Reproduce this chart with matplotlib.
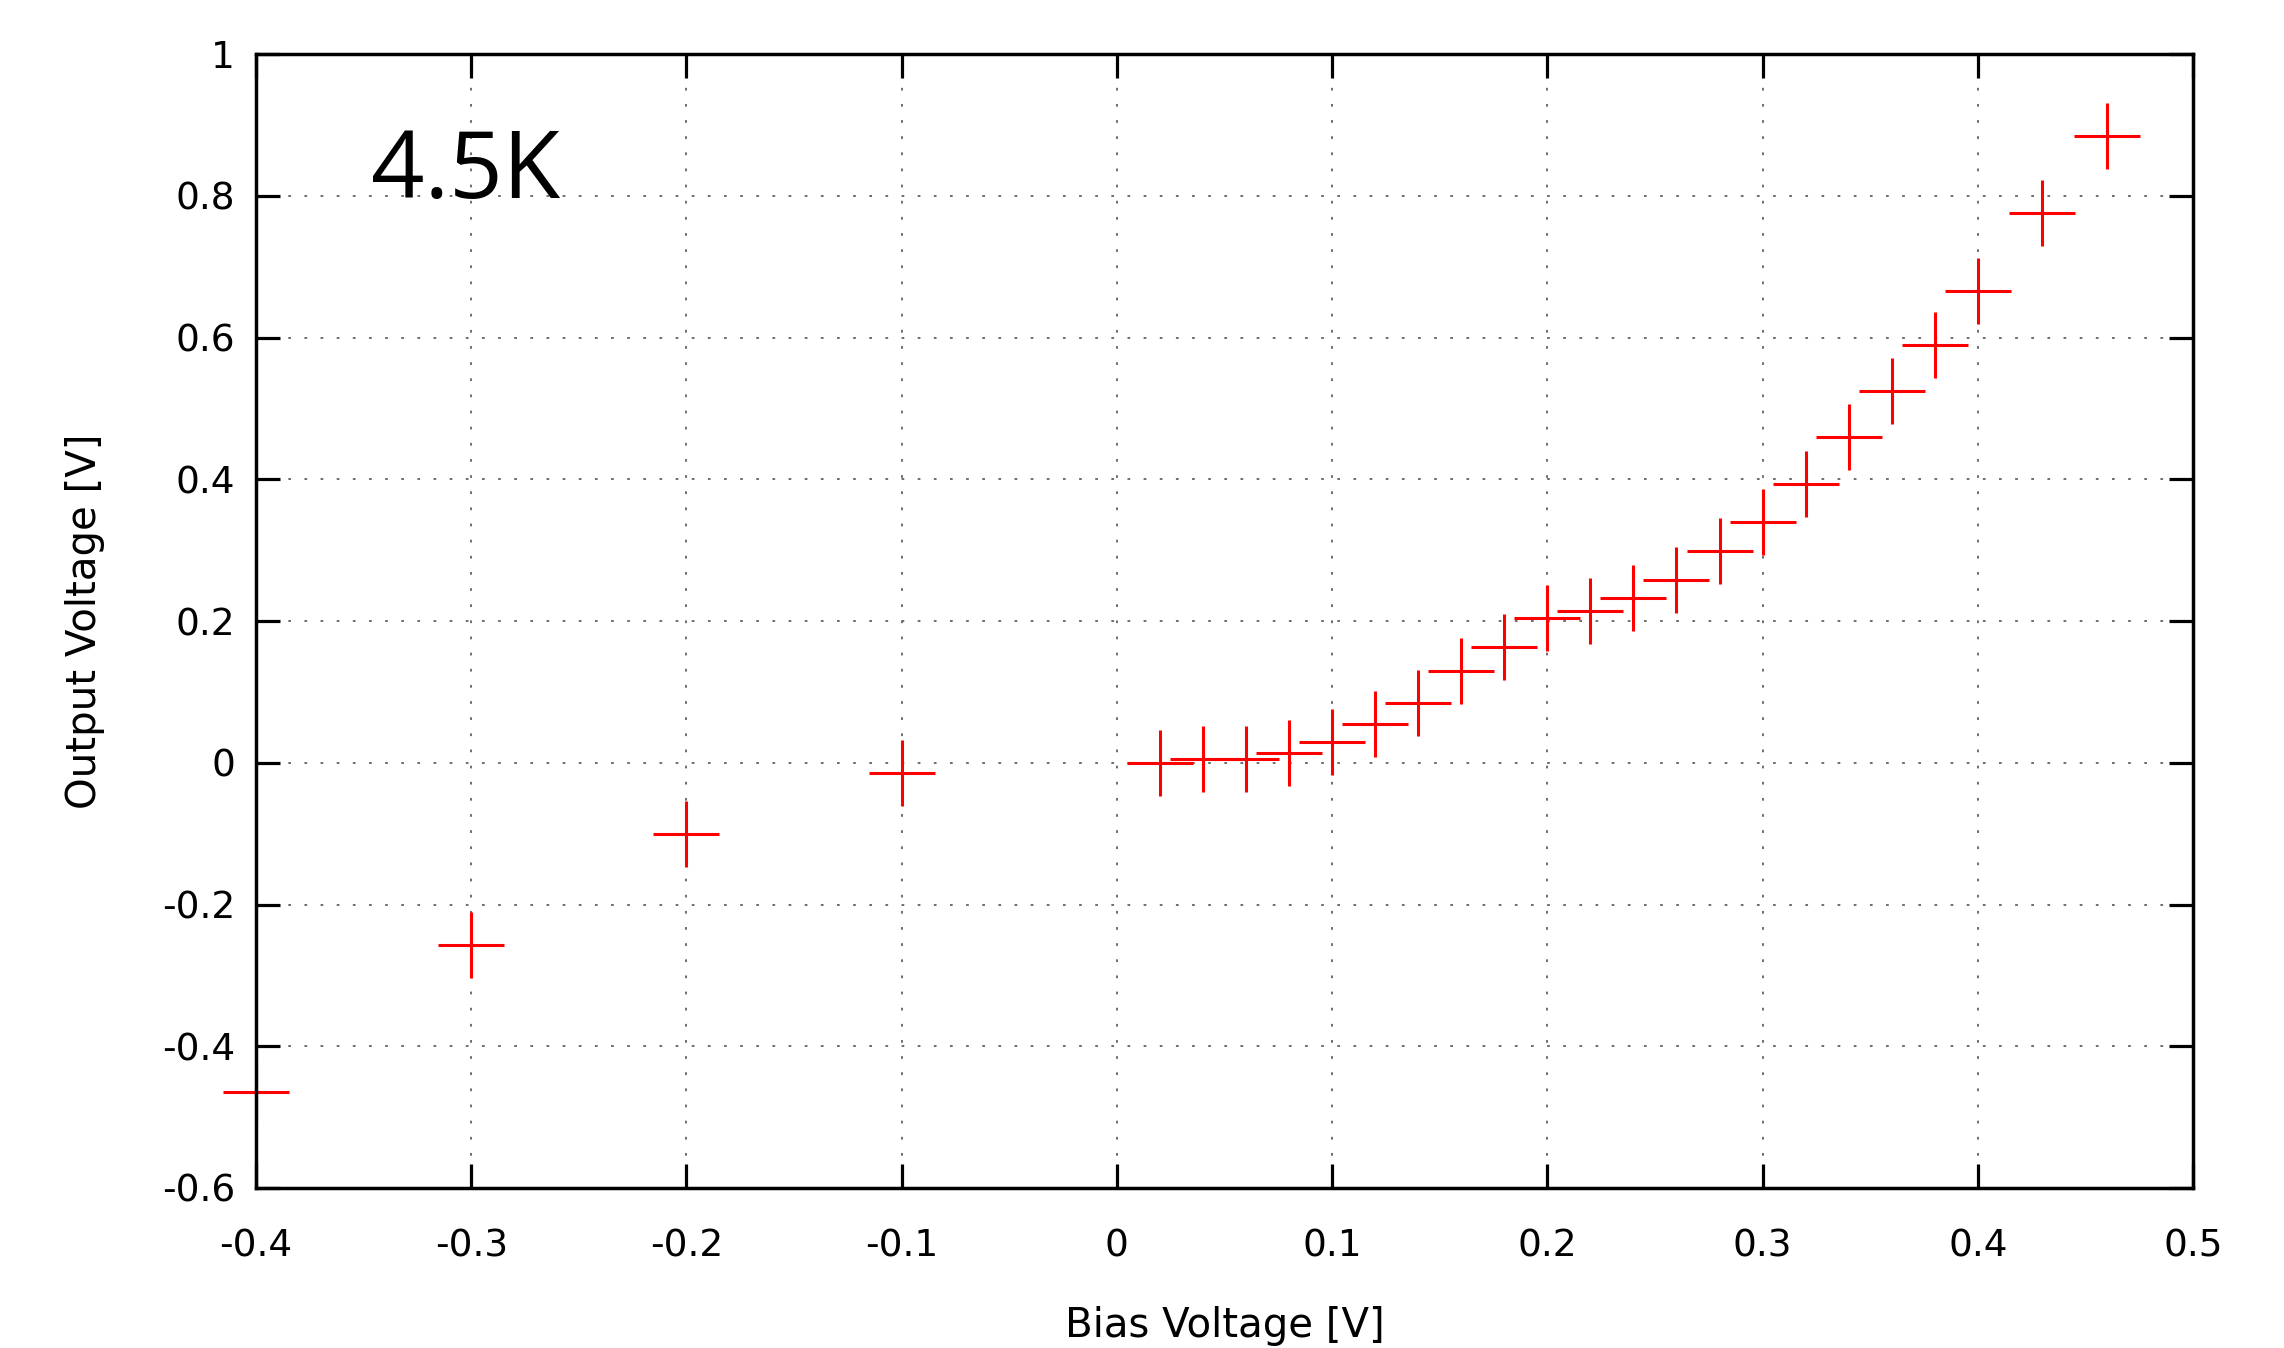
import matplotlib
matplotlib.use("Agg")
import matplotlib.pyplot as plt

# ---- data ----
bias_voltage = [-0.40, -0.30, -0.20, -0.10, 0.02, 0.04, 0.06, 0.08, 0.10, 0.12,
                0.14, 0.16, 0.18, 0.20, 0.22, 0.24, 0.26, 0.28, 0.30, 0.32,
                0.34, 0.36, 0.38, 0.40, 0.43, 0.46]
output_voltage = [-0.464, -0.257, -0.100, -0.015, 0.000, 0.005, 0.005, 0.014, 0.029, 0.055,
                  0.085, 0.129, 0.164, 0.204, 0.214, 0.233, 0.258, 0.299, 0.339, 0.394,
                  0.459, 0.525, 0.590, 0.665, 0.775, 0.885]

xticks = [-0.4, -0.3, -0.2, -0.1, 0.0, 0.1, 0.2, 0.3, 0.4, 0.5]
xtick_labels = ["-0.4", "-0.3", "-0.2", "-0.1", "0", "0.1", "0.2", "0.3", "0.4", "0.5"]
yticks = [-0.6, -0.4, -0.2, 0.0, 0.2, 0.4, 0.6, 0.8, 1.0]
ytick_labels = ["-0.6", "-0.4", "-0.2", "0", "0.2", "0.4", "0.6", "0.8", "1"]

plt.rcParams["font.family"] = ["DejaVu Sans"]
plt.rcParams["axes.unicode_minus"] = False

W, H = 2284, 1348
fig = plt.figure(figsize=(W / 100, H / 100), dpi=100)
ax = fig.add_axes([256 / W, 1 - 1188 / H, 1937 / W, 1134 / H])

ax.plot(bias_voltage, output_voltage, linestyle="none", marker="+",
        markersize=48, markeredgewidth=2.2, color="#ff0000", clip_on=False, zorder=2)

ax.set_xlim(-0.4, 0.5)
ax.set_ylim(-0.6, 1.0)
ax.set_xticks(xticks)
ax.set_xticklabels(xtick_labels)
ax.set_yticks(yticks)
ax.set_yticklabels(ytick_labels)

ax.grid(True, color="#6e6e6e", linewidth=1.4, linestyle=(0, (1.4, 6.9)))
ax.set_axisbelow(True)

for sp in ax.spines.values():
    sp.set_linewidth(2.5)
    sp.set_color("black")
    sp.set_zorder(3)

ax.tick_params(direction="in", length=17, width=2.3, top=True, right=True,
               labelsize=27, colors="black")
ax.tick_params(axis="x", pad=29)
ax.tick_params(axis="y", pad=15)

ax.set_xlabel("Bias Voltage [V]", fontsize=29)
ax.set_ylabel("Output Voltage [V]", fontsize=29)
ax.xaxis.label.set_va("center")
ax.yaxis.label.set_va("center")
ax.xaxis.set_label_coords(0.5, -0.1215)
ax.yaxis.set_label_coords(-0.0883, 0.5)

ax.text(0.0595, 0.873, "4.5K", transform=ax.transAxes, fontsize=67.5,
        family=["Open Sans", "DejaVu Sans"], ha="left", va="baseline", color="black")

fig.savefig("out.png", dpi=100)
